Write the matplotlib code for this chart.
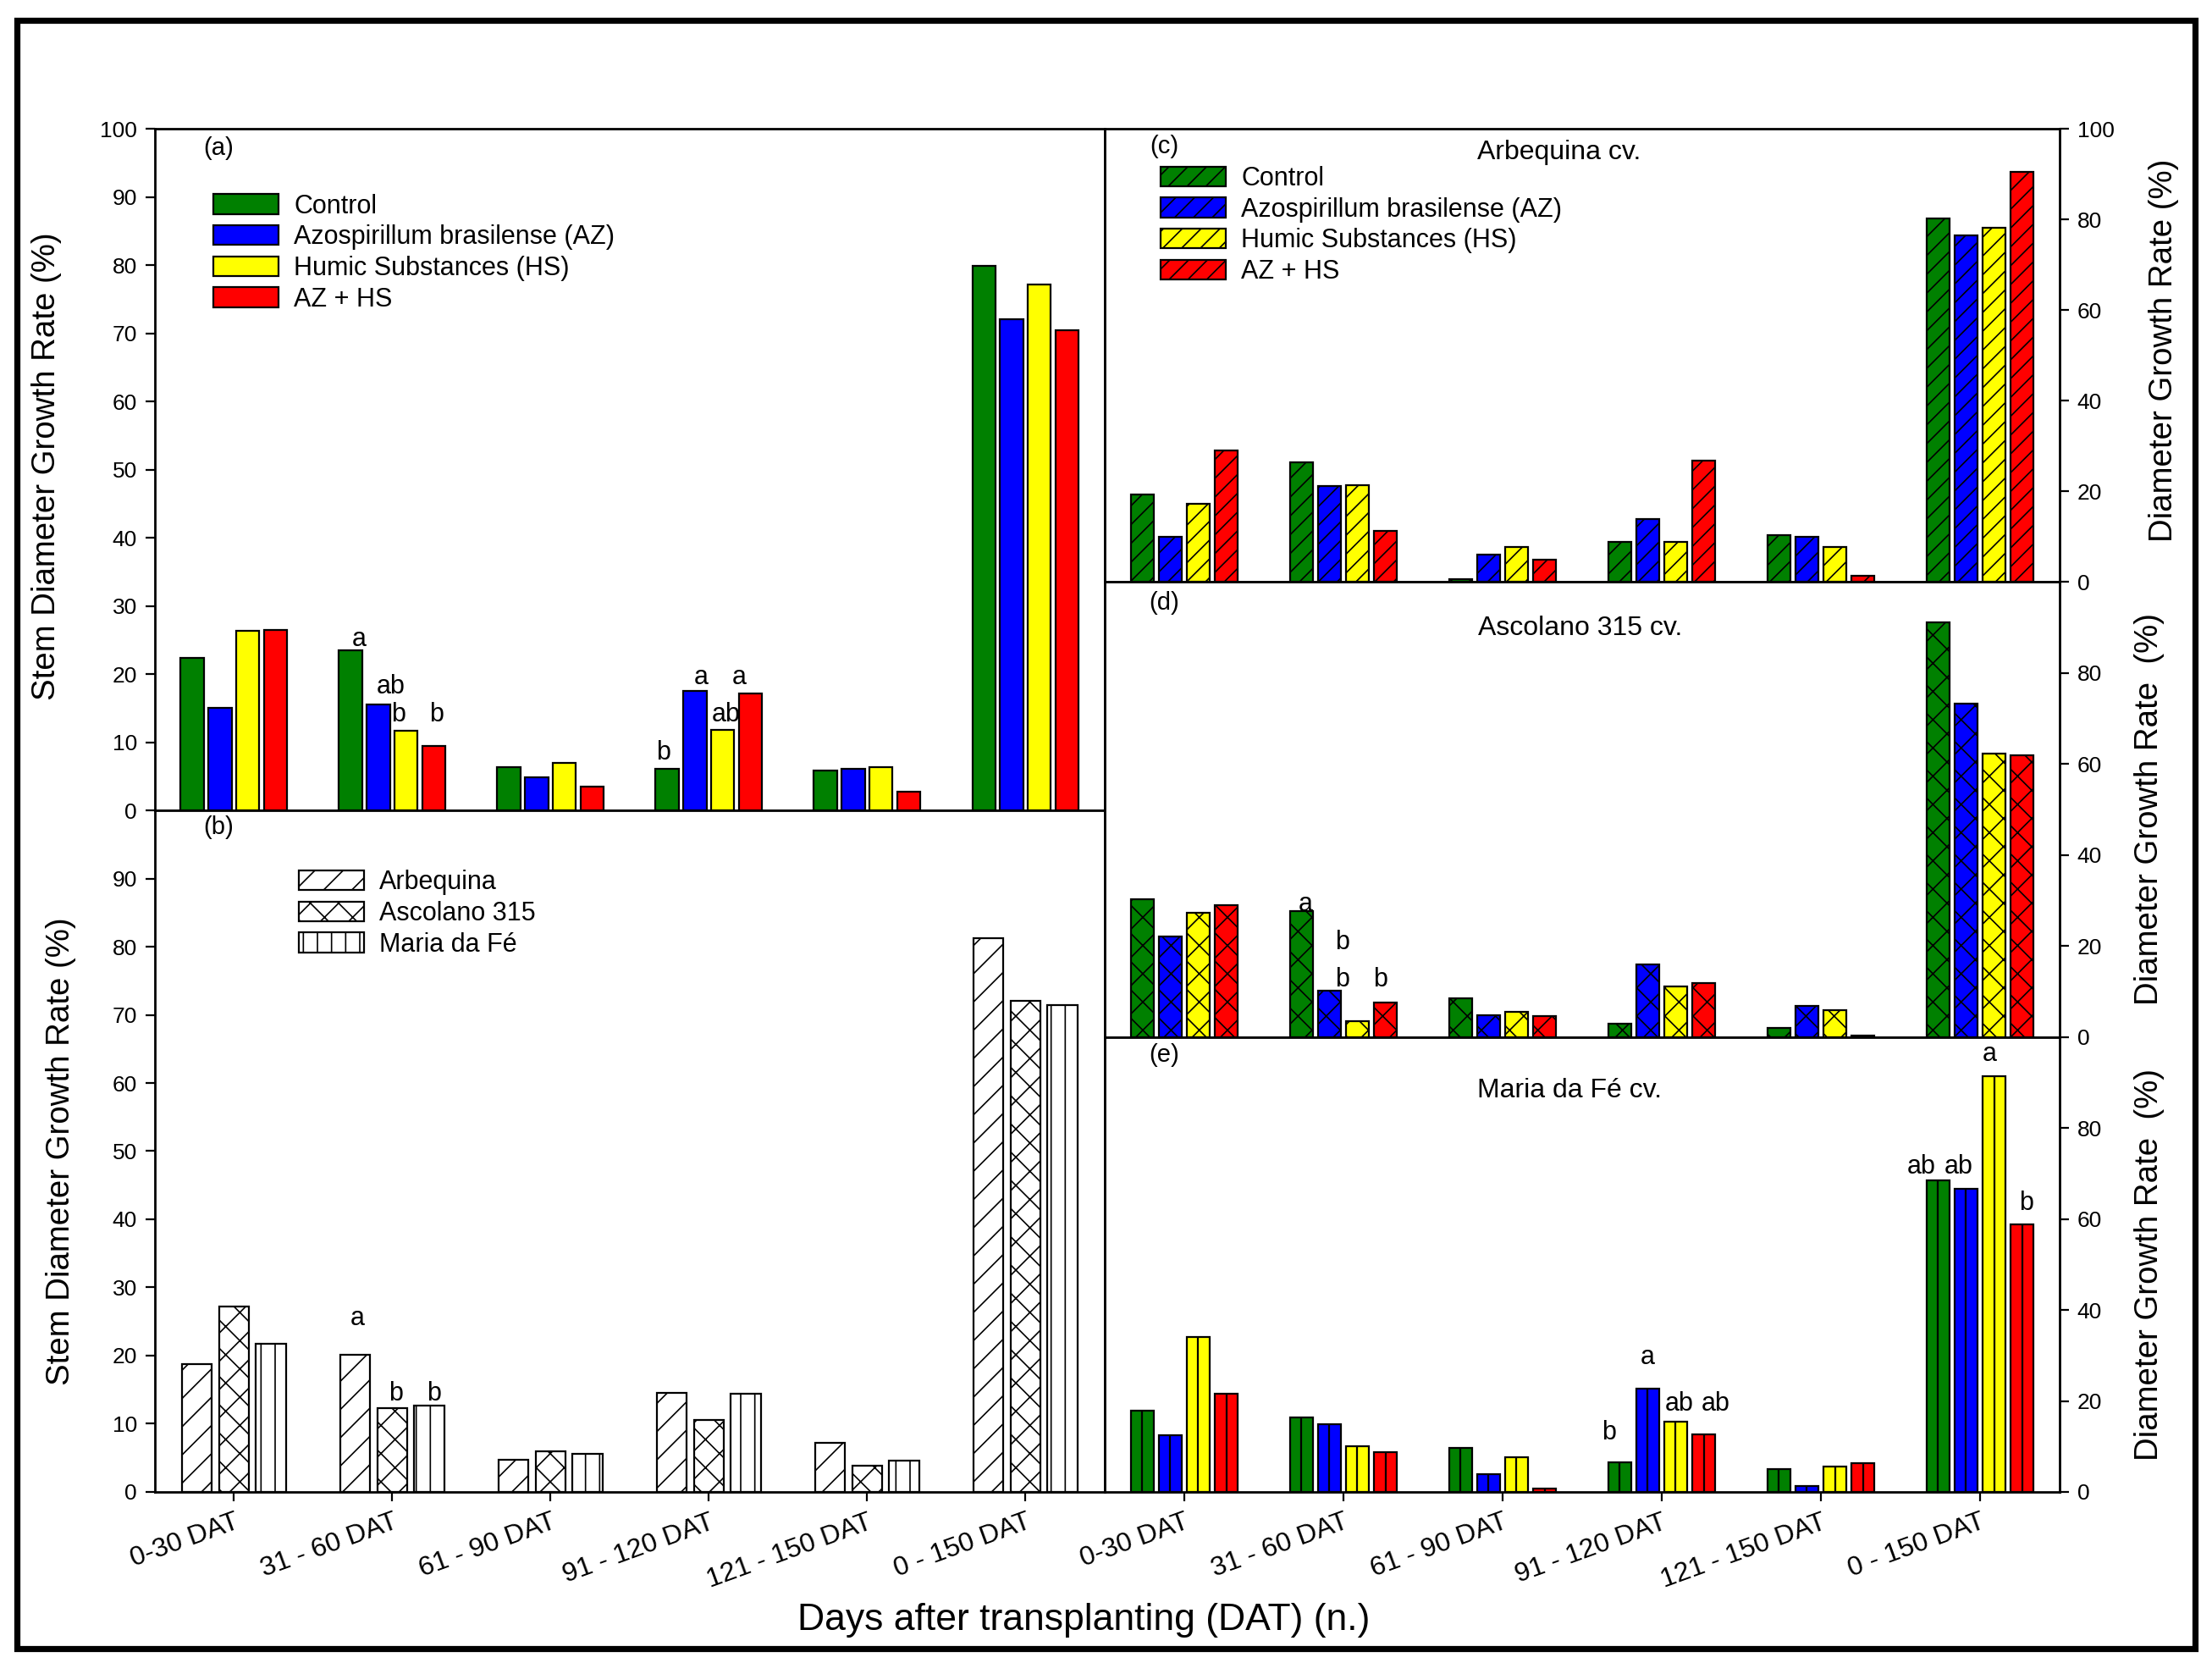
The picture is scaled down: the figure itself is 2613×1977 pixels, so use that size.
import numpy as np
import matplotlib.pyplot as plt
from matplotlib.patches import Rectangle

plt.rcParams['font.family'] = ['Liberation Sans', 'DejaVu Sans']
plt.rcParams['hatch.linewidth'] = 0.6

periods = ['0-30 DAT', '31 - 60 DAT', '61 - 90 DAT', '91 - 120 DAT', '121 - 150 DAT', '0 - 150 DAT']
treatments = ['Control', 'Azospirillum brasilense (AZ)', 'Humic Substances (HS)', 'AZ + HS']
cultivars = ['Arbequina', 'Ascolano 315', 'Maria da Fé']
colors = ['#008000', '#0000ff', '#ffff00', '#ff0000']

# (a) treatments, all cultivars
a_control = [22.4, 23.5, 6.4, 6.1, 5.9, 79.9]
a_az = [15.0, 15.5, 4.9, 17.5, 6.1, 72.1]
a_hs = [26.3, 11.7, 7.0, 11.8, 6.4, 77.2]
a_azhs = [26.5, 9.4, 3.5, 17.1, 2.8, 70.4]

# (b) cultivars, all treatments
b_arbequina = [18.8, 20.1, 4.7, 14.5, 7.2, 81.2]
b_ascolano = [27.2, 12.3, 6.0, 10.6, 3.9, 72.1]
b_maria = [21.7, 12.6, 5.6, 14.4, 4.6, 71.4]

# (c) Arbequina
c_control = [19.2, 26.3, 0.5, 8.7, 10.2, 80.2]
c_az = [9.9, 21.1, 6.0, 13.9, 9.9, 76.4]
c_hs = [17.2, 21.4, 7.7, 8.8, 7.7, 78.1]
c_azhs = [29.0, 11.3, 4.8, 26.7, 1.3, 90.4]

# (d) Ascolano 315
d_control = [30.3, 27.6, 8.6, 3.0, 2.1, 91.1]
d_az = [22.2, 10.2, 4.8, 16.0, 6.9, 73.2]
d_hs = [27.4, 3.5, 5.5, 11.1, 6.0, 62.2]
d_azhs = [28.9, 7.7, 4.6, 11.8, 0.4, 61.9]

# (e) Maria da Fé
e_control = [17.9, 16.3, 9.7, 6.5, 5.1, 68.6]
e_az = [12.5, 14.9, 3.9, 22.7, 1.2, 66.7]
e_hs = [34.1, 10.0, 7.65, 15.5, 5.5, 91.4]
e_azhs = [21.6, 8.8, 0.7, 12.7, 6.4, 58.9]

# letters: (x in group units, y value, text)
a_letters = [(0.79, 25.1, 'a'), (0.99, 18.1, 'ab'), (1.04, 14.0, 'b'), (1.28, 14.0, 'b'),
             (2.71, 8.4, 'b'), (2.95, 19.5, 'a'), (3.11, 14.0, 'ab'), (3.19, 19.5, 'a')]
b_letters = [(0.78, 25.4, 'a'), (1.02, 14.4, 'b'), (1.26, 14.4, 'b')]
d_letters = [(0.76, 29.2, 'a'), (0.99, 20.9, 'b'), (0.99, 12.6, 'b'), (1.23, 12.6, 'b')]
e_letters = [(2.67, 13.1, 'b'), (2.91, 29.6, 'a'), (3.11, 19.4, 'ab'), (3.34, 19.4, 'ab'),
             (4.63, 71.5, 'ab'), (4.865, 71.5, 'ab'), (5.06, 96.2, 'a'), (5.29, 63.4, 'b')]

x = np.arange(len(periods))


def bars(ax, series, step, width, cols, hatches, labels):
    n = len(series)
    for i, vals in enumerate(series):
        ax.bar(x + (i - (n - 1) / 2) * step, vals, width, color=cols[i],
               edgecolor='black', linewidth=0.8, hatch=hatches[i], label=labels[i])


def style(ax, ticks, side):
    ax.set_xlim(-0.5, 5.5)
    ax.set_ylim(0, 100)
    ax.set_yticks(ticks)
    for s in ax.spines.values():
        s.set_linewidth(1.0)
    ax.tick_params(axis='y', direction='out', length=4, width=0.8, labelsize=9.5,
                   left=(side == 'left'), labelleft=(side == 'left'),
                   right=(side == 'right'), labelright=(side == 'right'))
    ax.tick_params(axis='x', direction='out', length=4, width=0.8, labelsize=11.5,
                   top=False)
    ax.set_xticks(x)
    ax.set_xticklabels([])


def letters(ax, items):
    for lx, ly, t in items:
        ax.text(lx, ly, t, ha='center', va='center', fontsize=11)


fig = plt.figure(figsize=(13.065, 9.885), dpi=200)

ax_a = fig.add_axes([0.0700, 0.5159, 0.4294, 0.4072])
ax_b = fig.add_axes([0.0700, 0.1088, 0.4294, 0.4071])
ax_c = fig.add_axes([0.4994, 0.6525, 0.4317, 0.2706])
ax_d = fig.add_axes([0.4994, 0.3804, 0.4317, 0.2721])
ax_e = fig.add_axes([0.4994, 0.1088, 0.4317, 0.2716])

leg_kw = dict(loc='upper left', frameon=False, fontsize=11, handlelength=2.5,
              handleheight=0.8, labelspacing=0.22, handletextpad=0.6,
              borderaxespad=0, borderpad=0)

# (a)
bars(ax_a, [a_control, a_az, a_hs, a_azhs], 0.176, 0.145, colors, [None] * 4, treatments)
style(ax_a, range(0, 101, 10), 'left')
ax_a.tick_params(axis='x', bottom=False)
ax_a.legend(bbox_to_anchor=(0.062, 0.905), **leg_kw)
letters(ax_a, a_letters)
ax_a.text(0.067, 0.972, '(a)', transform=ax_a.transAxes, ha='center', va='center', fontsize=10.5)
ax_a.set_ylabel('Stem Diameter Growth Rate (%)', fontsize=13.8)
ax_a.yaxis.set_label_coords(-0.098, 0.505)

# (b)
bars(ax_b, [b_arbequina, b_ascolano, b_maria], 0.234, 0.19, ['white'] * 3, ['//', 'xx', '||'], cultivars)
style(ax_b, range(0, 91, 10), 'left')
ax_b.set_xticklabels(periods, rotation=20, ha='right', va='top', rotation_mode='anchor')
ax_b.legend(bbox_to_anchor=(0.152, 0.913), **leg_kw)
letters(ax_b, b_letters)
ax_b.text(0.067, 0.975, '(b)', transform=ax_b.transAxes, ha='center', va='center', fontsize=10.5)
ax_b.set_ylabel('Stem Diameter Growth Rate (%)', fontsize=13.8)
ax_b.yaxis.set_label_coords(-0.083, 0.50)

# (c)
bars(ax_c, [c_control, c_az, c_hs, c_azhs], 0.176, 0.145, colors, ['///'] * 4, treatments)
style(ax_c, range(0, 101, 20), 'right')
ax_c.tick_params(axis='x', bottom=False)
ax_c.legend(bbox_to_anchor=(0.059, 0.918), **leg_kw)
ax_c.text(0.062, 0.96, '(c)', transform=ax_c.transAxes, ha='center', va='center', fontsize=10.5)
ax_c.text(0.476, 0.947, 'Arbequina cv.', transform=ax_c.transAxes, ha='center', va='center', fontsize=11.5)
ax_c.yaxis.set_label_position('right')
ax_c.set_ylabel('Diameter Growth Rate (%)', fontsize=13.8)
ax_c.yaxis.set_label_coords(1.093, 0.51)

# (d)
bars(ax_d, [d_control, d_az, d_hs, d_azhs], 0.176, 0.145, colors, ['xx'] * 4, treatments)
style(ax_d, range(0, 81, 20), 'right')
ax_d.tick_params(axis='x', bottom=False)
letters(ax_d, d_letters)
ax_d.text(0.062, 0.953, '(d)', transform=ax_d.transAxes, ha='center', va='center', fontsize=10.5)
ax_d.text(0.498, 0.898, 'Ascolano 315 cv.', transform=ax_d.transAxes, ha='center', va='center', fontsize=11.5)
ax_d.yaxis.set_label_position('right')
ax_d.set_ylabel('Diameter Growth Rate  (%)', fontsize=13.8)
ax_d.yaxis.set_label_coords(1.078, 0.50)

# (e)
e_series = [e_control, e_az, e_hs, e_azhs]
bars(ax_e, e_series, 0.176, 0.145, colors, [None] * 4, treatments)
for i, vals in enumerate(e_series):
    ax_e.vlines(x + (i - 1.5) * 0.176, 0, vals, colors='black', linewidth=0.8)
style(ax_e, range(0, 81, 20), 'right')
ax_e.set_xticklabels(periods, rotation=20, ha='right', va='top', rotation_mode='anchor')
letters(ax_e, e_letters)
ax_e.text(0.062, 0.96, '(e)', transform=ax_e.transAxes, ha='center', va='center', fontsize=10.5)
ax_e.text(0.487, 0.882, 'Maria da Fé cv.', transform=ax_e.transAxes, ha='center', va='center', fontsize=11.5)
ax_e.yaxis.set_label_position('right')
ax_e.set_ylabel('Diameter Growth Rate  (%)', fontsize=13.8)
ax_e.yaxis.set_label_coords(1.078, 0.50)

fig.text(0.49, 0.032, 'Days after transplanting (DAT) (n.)', ha='center', va='center', fontsize=16)

fig.patches.append(Rectangle((0.0077, 0.0152), 0.9846, 0.9728, transform=fig.transFigure,
                             fill=False, edgecolor='black', linewidth=2.6))

fig.savefig('out.png', dpi=200)
